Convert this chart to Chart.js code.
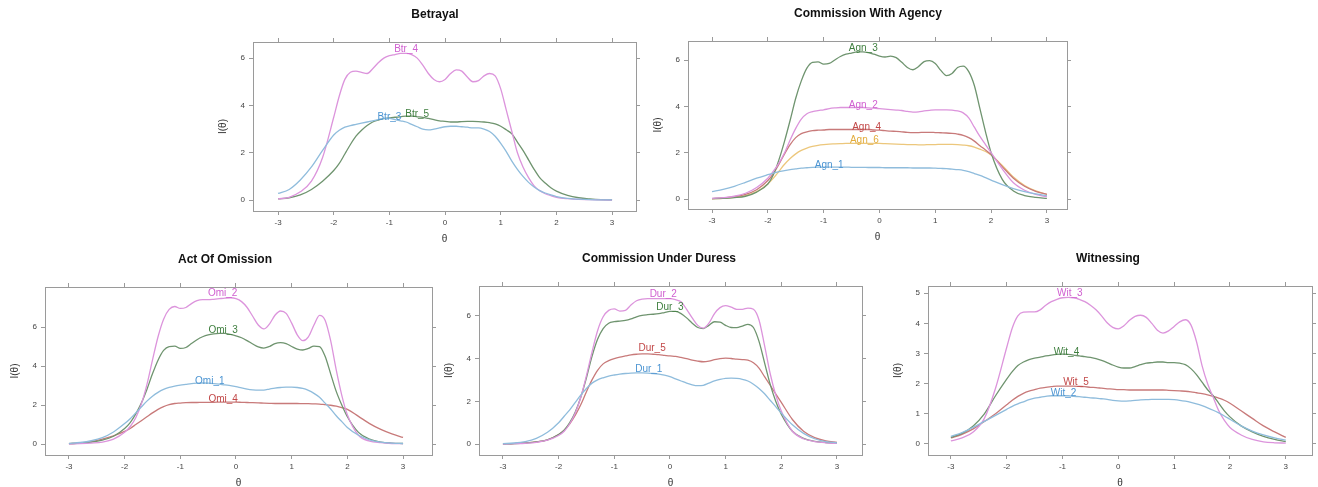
<!DOCTYPE html>
<html>
<head>
<meta charset="utf-8">
<script src="https://cdn.jsdelivr.net/npm/chart.js@4.4.1/dist/chart.umd.min.js"></script>
<style>
  html, body { margin: 0; padding: 0; background: #fff; overflow: hidden; }
  body { width: 1318px; height: 487px; position: relative; }
  canvas { position: absolute; }
</style>
</head>
<body>
<canvas id="p1"></canvas>
<canvas id="p2"></canvas>
<canvas id="p3"></canvas>
<canvas id="p4"></canvas>
<canvas id="p5"></canvas>
<script>
// theta grid shared by every curve
const theta = [-3, -2.8, -2.6, -2.4, -2.2,
  -2, -1.9, -1.8, -1.7, -1.6, -1.5, -1.4, -1.3, -1.2, -1.1,
  -1, -0.9, -0.8, -0.7, -0.6, -0.5, -0.4, -0.3, -0.2, -0.1,
  0, 0.1, 0.2, 0.3, 0.4, 0.5, 0.6, 0.7, 0.8, 0.9,
  1, 1.1, 1.2, 1.3, 1.4, 1.5, 1.6, 1.7, 1.8, 1.9, 2,
  2.2, 2.4, 2.6, 2.8, 3];

const xTicks = [-3, -2, -1, 0, 1, 2, 3];

// Betrayal
const btr3 = [0.28, 0.45, 0.85, 1.4, 2.1,
  2.75, 2.95, 3.08, 3.15, 3.2, 3.25, 3.3, 3.35, 3.4, 3.45,
  3.45, 3.4, 3.35, 3.3, 3.2, 3.1, 3.0, 2.97, 3.0, 3.05,
  3.1, 3.12, 3.12, 3.1, 3.08, 3.05, 3.05, 3.0, 2.9, 2.7,
  2.4, 2.05, 1.65, 1.3, 1.0, 0.75, 0.55, 0.4, 0.3, 0.22, 0.15,
  0.07, 0.04, 0.02, 0.01, 0.01];
const btr4 = [0.05, 0.12, 0.35, 0.8, 1.8,
  3.5, 4.4, 5.1, 5.4, 5.45, 5.4, 5.35, 5.55, 5.8, 6.0,
  6.1, 6.15, 6.2, 6.2, 6.15, 6.0, 5.7, 5.35, 5.1, 5.0,
  5.1, 5.35, 5.5, 5.45, 5.2, 5.0, 5.05, 5.25, 5.35, 5.25,
  4.7, 3.8, 2.9, 2.0, 1.4, 0.95, 0.6, 0.4, 0.27, 0.19, 0.12,
  0.06, 0.03, 0.02, 0.01, 0];
const btr5 = [0.05, 0.1, 0.22, 0.45, 0.8,
  1.25, 1.55, 1.95, 2.35, 2.7, 2.95, 3.15, 3.3, 3.38, 3.44,
  3.47, 3.5, 3.52, 3.55, 3.55, 3.52, 3.5, 3.45, 3.4, 3.35,
  3.33, 3.3, 3.3, 3.32, 3.33, 3.33, 3.32, 3.3, 3.27, 3.22,
  3.12, 2.97, 2.8, 2.45, 2.1, 1.7, 1.3, 0.95, 0.72, 0.52, 0.38,
  0.2, 0.1, 0.05, 0.02, 0.01];

// Commission With Agency
const agn1 = [0.32, 0.42, 0.55, 0.72, 0.9,
  1.05, 1.12, 1.18, 1.23, 1.27, 1.3, 1.33, 1.35, 1.37, 1.38,
  1.38, 1.38, 1.38, 1.38, 1.38, 1.37, 1.37, 1.37, 1.36, 1.36,
  1.36, 1.35, 1.35, 1.35, 1.35, 1.35, 1.34, 1.34, 1.34, 1.34,
  1.33, 1.32, 1.31, 1.29, 1.27, 1.24, 1.18, 1.1, 1.02, 0.92, 0.82,
  0.62, 0.45, 0.32, 0.22, 0.15];
const agn2 = [0.03, 0.06, 0.12, 0.25, 0.5,
  0.9, 1.2, 1.55, 2.0, 2.55, 3.05, 3.45, 3.68, 3.77, 3.82,
  3.85, 3.9, 3.93, 3.95, 3.95, 3.95, 3.95, 3.95, 3.93, 3.92,
  3.9, 3.88, 3.86, 3.84, 3.82, 3.78, 3.75, 3.76, 3.8, 3.83,
  3.85, 3.85, 3.85, 3.84, 3.8, 3.72, 3.5, 3.1, 2.7, 2.35, 2.0,
  1.3, 0.7, 0.38, 0.2, 0.1];
const agn3 = [0.02, 0.03, 0.06, 0.12, 0.3,
  0.65, 1.05, 1.7, 2.5, 3.4, 4.35, 5.1, 5.65, 5.9, 5.92,
  5.82, 5.85, 6.0, 6.15, 6.25, 6.3, 6.35, 6.35, 6.32, 6.25,
  6.17, 6.13, 6.17, 6.1, 5.9, 5.68, 5.58, 5.72, 5.93, 5.97,
  5.85, 5.55, 5.33, 5.42, 5.68, 5.74, 5.5, 4.9, 3.9, 2.9, 2.0,
  0.85, 0.35, 0.15, 0.07, 0.03];
const agn4 = [0.02, 0.05, 0.1, 0.2, 0.4,
  0.8, 1.1, 1.5, 1.95, 2.35, 2.65, 2.82, 2.9, 2.95, 2.97,
  2.98, 3.0, 3.0, 3.0, 3.0, 3.0, 3.0, 3.0, 3.0, 2.98,
  2.97, 2.95, 2.93, 2.92, 2.9, 2.88, 2.87, 2.87, 2.88, 2.88,
  2.87, 2.86, 2.85, 2.83, 2.8, 2.75, 2.65, 2.5, 2.3, 2.12, 1.92,
  1.4, 0.9, 0.55, 0.33, 0.2];
const agn6 = [0.01, 0.03, 0.07, 0.15, 0.32,
  0.65, 0.9, 1.2, 1.5, 1.75, 1.95, 2.1, 2.2, 2.27, 2.32,
  2.35, 2.37, 2.38, 2.39, 2.4, 2.4, 2.4, 2.4, 2.4, 2.4,
  2.4, 2.39, 2.38, 2.37, 2.36, 2.35, 2.35, 2.34, 2.34, 2.35,
  2.35, 2.36, 2.36, 2.36, 2.35, 2.33, 2.3, 2.24, 2.15, 2.05, 1.9,
  1.45, 0.95, 0.58, 0.35, 0.2];

// Act Of Omission
const omi1 = [0.03, 0.08, 0.17, 0.33, 0.62,
  1.05, 1.3, 1.6, 1.9, 2.2, 2.45, 2.65, 2.8, 2.9, 2.97,
  3.02, 3.06, 3.1, 3.12, 3.13, 3.12, 3.1, 3.07, 3.03, 3.0,
  2.95, 2.88, 2.82, 2.78, 2.76, 2.77, 2.82, 2.87, 2.9, 2.92,
  2.92, 2.9, 2.85, 2.75, 2.6, 2.4, 2.1, 1.8, 1.45, 1.15, 0.85,
  0.45, 0.22, 0.1, 0.05, 0.03];
const omi2 = [0, 0.02, 0.05, 0.1, 0.25,
  0.6, 0.9, 1.35, 2.05, 3.05, 4.3, 5.5, 6.4, 6.9, 7.05,
  6.95, 7.0, 7.2, 7.35, 7.4, 7.4, 7.42, 7.45, 7.48, 7.5,
  7.45, 7.3, 7.0, 6.55, 6.1, 5.9, 6.15, 6.6, 6.82, 6.7,
  6.2, 5.6, 5.3, 5.5, 6.1, 6.6, 6.35, 5.3, 3.8, 2.5, 1.5,
  0.45, 0.15, 0.07, 0.03, 0.02];
const omi3 = [0.02, 0.05, 0.1, 0.2, 0.4,
  0.8, 1.1, 1.55, 2.1, 2.8, 3.6, 4.3, 4.8, 5.0, 5.02,
  4.9, 4.95, 5.15, 5.35, 5.5, 5.6, 5.65, 5.67, 5.67, 5.62,
  5.55, 5.45, 5.3, 5.13, 4.98, 4.92, 5.0, 5.15, 5.2, 5.15,
  5.0, 4.87, 4.82, 4.9, 5.02, 5.0, 4.5, 3.6, 2.7, 2.0, 1.4,
  0.6, 0.25, 0.1, 0.05, 0.03];
const omi4 = [0.02, 0.05, 0.12, 0.25, 0.42,
  0.65, 0.8, 1.0, 1.2, 1.4, 1.6, 1.78, 1.92, 2.02, 2.08,
  2.1, 2.12, 2.13, 2.13, 2.14, 2.14, 2.14, 2.15, 2.15, 2.15,
  2.15, 2.14, 2.13, 2.12, 2.11, 2.1, 2.09, 2.08, 2.08, 2.08,
  2.08, 2.08, 2.07, 2.07, 2.06, 2.05, 2.02, 1.99, 1.94, 1.87, 1.78,
  1.42, 1.05, 0.75, 0.52, 0.34];

// Commission Under Duress
const dur1 = [0.02, 0.05, 0.12, 0.27, 0.55,
  1.0, 1.3, 1.6, 1.95, 2.3, 2.6, 2.85, 3.0, 3.1, 3.18,
  3.23, 3.27, 3.3, 3.32, 3.33, 3.33, 3.32, 3.3, 3.27, 3.22,
  3.15, 3.05, 2.95, 2.85, 2.77, 2.73, 2.75, 2.85, 2.95, 3.02,
  3.07, 3.08, 3.07, 3.03, 2.95, 2.8, 2.6, 2.35, 2.05, 1.75, 1.45,
  0.9, 0.5, 0.25, 0.12, 0.06];
const dur2 = [0, 0.02, 0.04, 0.08, 0.18,
  0.4, 0.6, 0.95, 1.45, 2.2, 3.2, 4.3, 5.3, 5.95, 6.25,
  6.32, 6.22, 6.25, 6.5, 6.7, 6.78, 6.8, 6.8, 6.8, 6.8,
  6.8, 6.75, 6.65, 6.3, 5.9, 5.55, 5.42, 5.65, 6.1, 6.38,
  6.47, 6.4, 6.3, 6.3, 6.36, 6.3, 5.8, 4.6, 3.3, 2.3, 1.55,
  0.6, 0.25, 0.12, 0.06, 0.03];
const dur3 = [0, 0.02, 0.05, 0.1, 0.2,
  0.45, 0.65, 1.0, 1.5, 2.2, 3.1, 4.1, 4.9, 5.4, 5.65,
  5.72, 5.75, 5.78, 5.85, 5.95, 6.02, 6.05, 6.07, 6.1, 6.15,
  6.2, 6.2, 6.1, 5.9, 5.65, 5.45, 5.4, 5.55, 5.72, 5.7,
  5.55, 5.45, 5.44, 5.52, 5.6, 5.45, 4.8, 3.8, 2.8, 2.0, 1.4,
  0.6, 0.27, 0.13, 0.07, 0.04];
const dur5 = [0, 0.02, 0.05, 0.1, 0.2,
  0.45, 0.65, 0.95, 1.35, 1.85, 2.45, 3.0, 3.45, 3.75, 3.9,
  4.0, 4.07, 4.12, 4.17, 4.2, 4.22, 4.22, 4.2, 4.18, 4.15,
  4.12, 4.1, 4.05, 4.0, 3.93, 3.88, 3.85, 3.88, 3.95, 4.0,
  4.02, 4.0, 3.97, 3.95, 3.92, 3.8, 3.55, 3.15, 2.75, 2.35, 1.95,
  1.15, 0.6, 0.3, 0.15, 0.08];

// Witnessing
const wit2 = [0.25, 0.38, 0.55, 0.75, 0.95,
  1.15, 1.25, 1.33, 1.4, 1.47, 1.52, 1.55, 1.58, 1.6, 1.6,
  1.6, 1.6, 1.58, 1.57, 1.55, 1.53, 1.52, 1.5, 1.48, 1.45,
  1.43, 1.42, 1.43, 1.45, 1.46, 1.47, 1.48, 1.48, 1.48, 1.48,
  1.47, 1.45, 1.42, 1.38, 1.33, 1.27, 1.2, 1.12, 1.03, 0.93, 0.82,
  0.6, 0.43, 0.3, 0.2, 0.13];
const wit3 = [0.1, 0.2, 0.4, 0.85, 1.85,
  3.2, 3.85, 4.25, 4.37, 4.38, 4.38, 4.45, 4.6, 4.72, 4.8,
  4.85, 4.86, 4.85, 4.8, 4.72, 4.6, 4.45, 4.25, 4.02, 3.87,
  3.82, 3.92, 4.1, 4.23, 4.27, 4.2, 4.0, 3.77, 3.68, 3.75,
  3.9, 4.05, 4.12, 3.95, 3.4, 2.6, 2.0, 1.55, 1.1, 0.78, 0.55,
  0.3, 0.15, 0.07, 0.04, 0.03];
const wit4 = [0.22, 0.35, 0.6, 1.0, 1.6,
  2.15, 2.4, 2.6, 2.72, 2.8, 2.85, 2.88, 2.92, 2.95, 2.97,
  2.98, 2.97, 2.95, 2.92, 2.9, 2.87, 2.83, 2.77, 2.7, 2.62,
  2.55, 2.52, 2.52, 2.57, 2.63, 2.68, 2.7, 2.72, 2.72, 2.7,
  2.7, 2.68, 2.63, 2.5, 2.3, 2.05, 1.8, 1.6, 1.35, 1.1, 0.9,
  0.6, 0.4, 0.25, 0.15, 0.08];
const wit5 = [0.2, 0.32, 0.5, 0.75, 1.0,
  1.3, 1.45, 1.58, 1.68, 1.75, 1.8, 1.85, 1.88, 1.9, 1.92,
  1.92, 1.92, 1.92, 1.91, 1.9, 1.88, 1.87, 1.85, 1.83, 1.82,
  1.8, 1.8, 1.79, 1.79, 1.79, 1.79, 1.79, 1.79, 1.79, 1.78,
  1.77, 1.76, 1.75, 1.73, 1.7, 1.67, 1.63, 1.58, 1.52, 1.45, 1.35,
  1.1, 0.85, 0.6, 0.4, 0.22];

// label anchors: [text, theta, value]
const btrLabels = [['Btr_3', -1.0, 3.5], ['Btr_4', -0.7, 6.37], ['Btr_5', -0.5, 3.64]];
const agnLabels = [['Agn_1', -0.9, 1.47], ['Agn_2', -0.29, 4.06], ['Agn_3', -0.29, 6.5], ['Agn_4', -0.23, 3.08], ['Agn_6', -0.27, 2.52]];
const omiLabels = [['Omi_1', -0.47, 3.24], ['Omi_2', -0.24, 7.72], ['Omi_3', -0.23, 5.83], ['Omi_4', -0.23, 2.3]];
const durLabels = [['Dur_1', -0.38, 3.5], ['Dur_2', -0.12, 7.0], ['Dur_3', 0.0, 6.4], ['Dur_5', -0.32, 4.48]];
const witLabels = [['Wit_2', -0.98, 1.67], ['Wit_3', -0.87, 5.0], ['Wit_4', -0.93, 3.05], ['Wit_5', -0.76, 2.05]];

// lattice-like palette: blue, magenta, green, red, orange
const lineColors = ['#8fbcdc', '#dc94dc', '#6f946f', '#c87a7a', '#ecc77c'];
const labelColors = ['#4b94d2', '#d060d0', '#3f7f3f', '#c24848', '#e2ac3c'];

const FONT = '"Liberation Sans", Arial, Helvetica, sans-serif';
const AXIS_W = 44;    // left axis strip
const TOP_H = 40;     // title + top ticks
const BOTTOM_H = 36;  // bottom ticks, labels, theta

const panels = [
  { id: 'p1', title: 'Betrayal', box: [253, 42, 636, 211], titleX: 435,
    x: [-3.45, 3.43], y: [-0.46, 6.68], yTicks: [0, 2, 4, 6],
    series: [[btr3, 0], [btr4, 1], [btr5, 2]], labels: btrLabels },
  { id: 'p2', title: 'Commission With Agency', box: [688, 41, 1067, 209], titleX: 868,
    x: [-3.43, 3.36], y: [-0.43, 6.82], yTicks: [0, 2, 4, 6],
    series: [[agn1, 0], [agn2, 1], [agn3, 2], [agn4, 3], [agn6, 4]], labels: agnLabels },
  { id: 'p3', title: 'Act Of Omission', box: [45, 287, 432, 455], titleX: 225,
    x: [-3.43, 3.52], y: [-0.56, 8.05], yTicks: [0, 2, 4, 6],
    series: [[omi1, 0], [omi2, 1], [omi3, 2], [omi4, 3]], labels: omiLabels },
  { id: 'p4', title: 'Commission Under Duress', box: [479, 286, 862, 455], titleX: 659,
    x: [-3.43, 3.45], y: [-0.51, 7.39], yTicks: [0, 2, 4, 6],
    series: [[dur1, 0], [dur2, 1], [dur3, 2], [dur5, 3]], labels: durLabels },
  { id: 'p5', title: 'Witnessing', box: [928, 286, 1312, 455], titleX: 1108,
    x: [-3.41, 3.47], y: [-0.365, 5.24], yTicks: [0, 1, 2, 3, 4, 5],
    series: [[wit2, 0], [wit3, 1], [wit4, 2], [wit5, 3]], labels: witLabels }
];

// draws the item names next to the curves
const curveLabels = {
  id: 'curveLabels',
  afterDatasetsDraw(chart, args, opts) {
    const { ctx, scales: { x, y } } = chart;
    ctx.save();
    ctx.font = '10px ' + FONT;
    ctx.textAlign = 'center';
    ctx.textBaseline = 'middle';
    opts.items.forEach(function (it) {
      ctx.fillStyle = it.color;
      ctx.fillText(it.text, x.getPixelForValue(it.x), y.getPixelForValue(it.y));
    });
    ctx.restore();
  }
};

function drawPanel(p) {
  const canvas = document.getElementById(p.id);
  const left = p.box[0] - AXIS_W;
  const top = p.box[1] - TOP_H;
  const width = Math.round(2 * (p.titleX - left));
  const height = (p.box[3] - p.box[1]) + TOP_H + BOTTOM_H;
  const rightW = left + width - p.box[2];
  canvas.style.left = left + 'px';
  canvas.style.top = top + 'px';
  canvas.width = width;
  canvas.height = height;

  const tickGrid = { display: true, drawOnChartArea: false, drawTicks: true, tickLength: 4, color: '#9a9a9a' };
  const border = { display: true, color: '#9a9a9a', width: 1 };
  const tickFont = { family: FONT, size: 8 };
  const setX = function (s) { s.ticks = xTicks.map(v => ({ value: v })); };
  const setY = function (s) { s.ticks = p.yTicks.map(v => ({ value: v })); };

  const datasets = p.series.map(function (s) {
    return {
      data: theta.map((t, i) => ({ x: t, y: s[0][i] })),
      borderColor: lineColors[s[1]],
      borderWidth: 1.3,
      pointRadius: 0,
      fill: false,
      cubicInterpolationMode: 'monotone'
    };
  });

  const items = p.labels.map(function (l, i) {
    return { text: l[0], x: l[1], y: l[2], color: labelColors[p.series[i][1]] };
  });

  new Chart(canvas.getContext('2d'), {
    type: 'line',
    data: { datasets: datasets },
    plugins: [curveLabels],
    options: {
      responsive: false,
      animation: false,
      events: [],
      layout: { padding: 0 },
      plugins: {
        legend: { display: false },
        tooltip: { enabled: false },
        title: {
          display: true,
          text: p.title,
          color: '#111',
          font: { family: FONT, size: 12, weight: 'bold', lineHeight: 1 },
          padding: { top: 7, bottom: 15 }
        },
        curveLabels: { items: items }
      },
      scales: {
        x: {
          type: 'linear', position: 'bottom', min: p.x[0], max: p.x[1],
          afterBuildTicks: setX,
          ticks: { font: tickFont, color: '#444', padding: 3, maxRotation: 0, autoSkip: false },
          grid: tickGrid, border: border,
          title: { display: true, text: 'θ', color: '#333', font: { family: FONT, size: 10, lineHeight: 1.2 }, padding: { top: 0, bottom: 2 } },
          afterFit: function (s) { s.height = BOTTOM_H; }
        },
        x2: {
          type: 'linear', position: 'top', min: p.x[0], max: p.x[1],
          afterBuildTicks: setX,
          ticks: { callback: () => '', font: tickFont, padding: 0 },
          grid: tickGrid, border: border,
          afterFit: function (s) { s.height = 6; }
        },
        y: {
          type: 'linear', position: 'left', min: p.y[0], max: p.y[1],
          afterBuildTicks: setY,
          ticks: { font: tickFont, color: '#444', padding: 4 },
          grid: tickGrid, border: border,
          title: { display: true, text: 'I(θ)', color: '#333', font: { family: FONT, size: 10, lineHeight: 1.2 }, padding: { top: 8, bottom: 0 } },
          afterFit: function (s) { s.width = AXIS_W; }
        },
        y2: {
          type: 'linear', position: 'right', min: p.y[0], max: p.y[1],
          afterBuildTicks: setY,
          ticks: { callback: () => '', font: tickFont, padding: 0 },
          grid: tickGrid, border: border,
          afterFit: function (s) { s.width = rightW; }
        }
      }
    }
  });
}

panels.forEach(drawPanel);
</script>
</body>
</html>
